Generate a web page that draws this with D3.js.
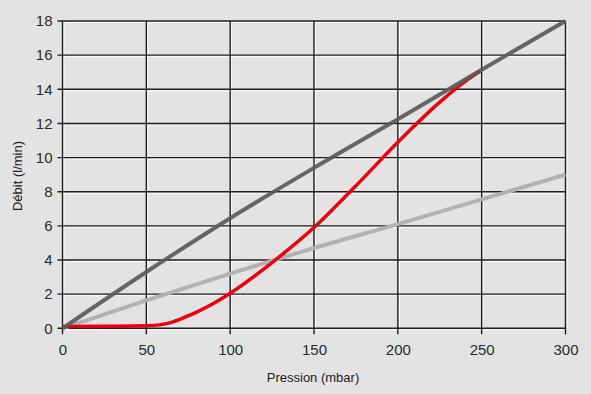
<!DOCTYPE html>
<html lang="en">
<meta charset="utf-8">
<head>
    <title>Débit / Pression</title>
    <script src="https://d3js.org/d3.v7.min.js"></script>
    <style type="text/css">
        body { margin: 0; background: #e3e3e3; }
        svg { display: block; font-family: "Liberation Sans", Arial, sans-serif; }
        .tick text { fill: #2a2a2a; }
    </style>
</head>
<body>
<div id="chart"></div>
<script>
// data
var xTicks = [0, 50, 100, 150, 200, 250, 300];
var yTicks = [0, 2, 4, 6, 8, 10, 12, 14, 16, 18];

var darkX = [0, 50, 100, 150, 200, 250, 300];
var darkY = [0, 3.3, 6.45, 9.4, 12.25, 15.15, 18];

var lightX = [0, 50, 100, 150, 200, 250, 300];
var lightY = [0, 1.63, 3.2, 4.7, 6.1, 7.55, 9.0];

var redX = [0, 25, 50, 58, 65, 73, 80, 90, 100, 125, 150, 175, 200, 225, 240, 249];
var redY = [0.1, 0.12, 0.15, 0.2, 0.35, 0.65, 0.95, 1.45, 2.05, 3.85, 5.9, 8.35, 10.9, 13.25, 14.45, 15.05];

var w = 591, h = 394;
var plotL = 62.5, plotR = 565.5, plotT = 21, plotB = 328.3;

var svg = d3.select("#chart").append("svg")
    .attr("width", w)
    .attr("height", h);

svg.append("rect").attr("width", w).attr("height", h).attr("fill", "#e3e3e3");

var xScale = d3.scaleLinear().domain([0, 300]).range([plotL, plotR]);
var yScale = d3.scaleLinear().domain([0, 18]).range([plotB, plotT]);

//grid, white highlight first then dark line
var grid = svg.append("g");
grid.selectAll("line.hw").data(yTicks).enter().append("line")
    .attr("x1", plotL).attr("x2", plotR)
    .attr("y1", function(d) { return yScale(d) + 1.5; })
    .attr("y2", function(d) { return yScale(d) + 1.5; })
    .attr("stroke", "#ffffff").attr("stroke-width", 1);
grid.selectAll("line.vw").data(xTicks).enter().append("line")
    .attr("y1", plotT).attr("y2", plotB)
    .attr("x1", function(d) { return xScale(d) + 1.5; })
    .attr("x2", function(d) { return xScale(d) + 1.5; })
    .attr("stroke", "#ffffff").attr("stroke-width", 1);
grid.selectAll("line.h").data(yTicks).enter().append("line")
    .attr("x1", plotL - 5).attr("x2", plotR)
    .attr("y1", function(d) { return yScale(d); })
    .attr("y2", function(d) { return yScale(d); })
    .attr("stroke", "#1e1e1e").attr("stroke-width", 1.4);
grid.selectAll("line.v").data(xTicks).enter().append("line")
    .attr("y1", plotT).attr("y2", plotB + 6)
    .attr("x1", function(d) { return xScale(d); })
    .attr("x2", function(d) { return xScale(d); })
    .attr("stroke", "#1e1e1e").attr("stroke-width", 1.4);

//axes labels
var xAxis = d3.axisBottom(xScale).tickValues(xTicks).tickSize(0).tickPadding(16);
var yAxis = d3.axisLeft(yScale).tickValues(yTicks).tickSize(0).tickPadding(10);

svg.append("g").attr("transform", "translate(0," + plotB + ")")
    .call(xAxis)
    .call(function(g) { g.select(".domain").remove(); })
    .selectAll("text").style("font-size", "15px");
svg.append("g").attr("transform", "translate(" + plotL + ",0)")
    .call(yAxis)
    .call(function(g) { g.select(".domain").remove(); })
    .selectAll("text").style("font-size", "15px");

svg.append("text")
    .attr("x", 313).attr("y", 382)
    .attr("text-anchor", "middle")
    .style("font-size", "13px").attr("fill", "#222")
    .text("Pression (mbar)");
svg.append("text")
    .attr("transform", "translate(22,176) rotate(-90)")
    .attr("text-anchor", "middle")
    .style("font-size", "13px").attr("fill", "#222")
    .text("Débit (l/min)");

//curves
var line = d3.line()
    .x(function(d) { return xScale(d[0]); })
    .y(function(d) { return yScale(d[1]); })
    .curve(d3.curveMonotoneX);

function pairs(xs, ys) { return xs.map(function(x, i) { return [x, ys[i]]; }); }

svg.append("path").datum(pairs(lightX, lightY))
    .attr("d", line).attr("fill", "none")
    .attr("stroke", "#b2b2b2").attr("stroke-width", 4);
svg.append("path").datum(pairs(redX, redY))
    .attr("d", line).attr("fill", "none")
    .attr("stroke", "#e8000b").attr("stroke-width", 3.5);
svg.append("path").datum(pairs(darkX, darkY))
    .attr("d", line).attr("fill", "none")
    .attr("stroke", "#5a5a5a").attr("stroke-opacity", 0.92).attr("stroke-width", 4);
</script>
</body>
</html>
